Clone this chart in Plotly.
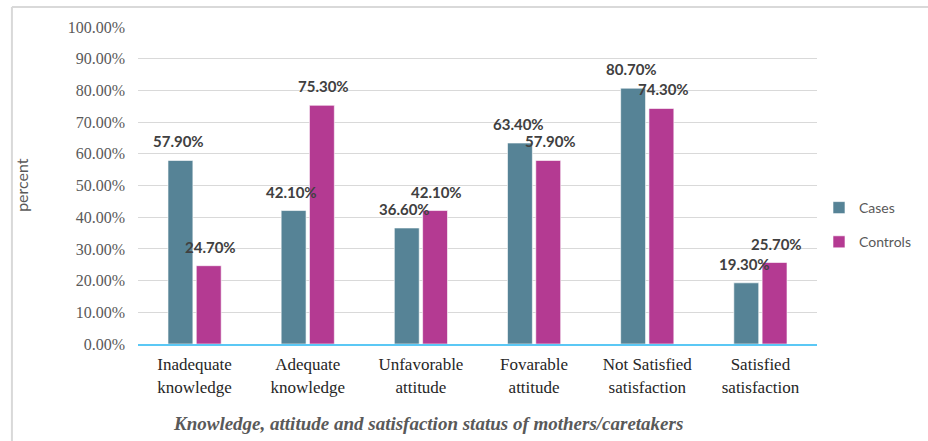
import plotly.graph_objects as go

categories = ["Inadequate<br>knowledge", "Adequate<br>knowledge", "Unfavorable<br>attitude",
              "Fovarable<br>attitude", "Not Satisfied<br>satisfaction", "Satisfied<br>satisfaction"]
cases = [57.9, 42.1, 36.6, 63.4, 80.7, 19.3]
controls = [24.7, 75.3, 42.1, 57.9, 74.3, 25.7]
y_ticks = [0, 10, 20, 30, 40, 50, 60, 70, 80, 90, 100]
y_tick_labels = [f"{v:.2f}%" for v in y_ticks]

CASE_COLOR = "#568396"
CTRL_COLOR = "#B43A92"

W, H = 928, 441
L, R, T, B = 138, 106, 27, 97
PW, PH = W - L - R, H - T - B

def px_x(p):
    return (p - L) / PW

def px_y(p):
    return (H - B - p) / PH

fig = go.Figure()
fig.add_trace(go.Bar(name="Cases", x=categories, y=cases, marker_color=CASE_COLOR,
                     marker_line=dict(color="rgba(255,255,255,0.6)", width=1),
                     legendgroup="a"))
fig.add_trace(go.Bar(name="Controls", x=categories, y=controls, marker_color=CTRL_COLOR,
                     marker_line=dict(color="rgba(255,255,255,0.6)", width=1),
                     legendgroup="b"))

label_font = dict(family="Lato, Open Sans, sans-serif", size=15, color="#404040")
for c, v in zip(categories, cases):
    fig.add_annotation(x=c, y=v, text=f"<b>{v:.2f}%</b>", showarrow=False, xshift=-16,
                       xanchor="center", yanchor="bottom", yshift=8, font=label_font)
for c, v in zip(categories, controls):
    fig.add_annotation(x=c, y=v, text=f"<b>{v:.2f}%</b>", showarrow=False, xshift=16,
                       xanchor="center", yanchor="bottom", yshift=8, font=label_font)

# y-axis title
fig.add_annotation(xref="paper", yref="paper", x=px_x(20), y=px_y(185), text="percent",
                   textangle=-90, showarrow=False, xanchor="center", yanchor="middle",
                   font=dict(family="Lato, Open Sans, sans-serif", size=16, color="#595959"))
# x-axis title
fig.add_annotation(xref="paper", yref="paper", x=px_x(430), y=px_y(423),
                   text="<b><i>Knowledge, attitude and satisfaction status of mothers/caretakers</i></b>",
                   showarrow=False, xanchor="center", yanchor="middle",
                   font=dict(family="Liberation Serif, Times New Roman, serif", size=19, color="#595959"))

# outer frame (top and left edges)
fig.add_shape(type="line", xref="paper", yref="paper", x0=px_x(11), x1=px_x(940),
              y0=px_y(7), y1=px_y(7), line=dict(color="#d9d9d9", width=2))
fig.add_shape(type="line", xref="paper", yref="paper", x0=px_x(11), x1=px_x(11),
              y0=px_y(7), y1=px_y(460), line=dict(color="#d9d9d9", width=2))

fig.update_layout(
    width=W, height=H,
    margin=dict(l=L, r=R, t=T, b=B),
    paper_bgcolor="white", plot_bgcolor="white",
    barmode="group", bargap=0.5, bargroupgap=0.12,
    legend=dict(x=px_x(824), y=px_y(225), xanchor="left", yanchor="middle",
                font=dict(family="Lato, Open Sans, sans-serif", size=14, color="#595959"),
                traceorder="grouped", tracegroupgap=13, itemwidth=30),
    xaxis=dict(showline=True, linecolor="#5BC8F5", linewidth=2, showgrid=False,
               tickfont=dict(family="Liberation Serif, Times New Roman, serif", size=17, color="#262626"),
               ticklabelstandoff=4),
    yaxis=dict(range=[0, 100], tickvals=y_ticks, ticktext=y_tick_labels,
               showgrid=True, gridcolor="#d9d9d9", gridwidth=1, zeroline=False,
               tickfont=dict(family="Liberation Serif, Times New Roman, serif", size=16, color="#595959"),
               ticklabelstandoff=12),
)

fig.write_html("out.html")
